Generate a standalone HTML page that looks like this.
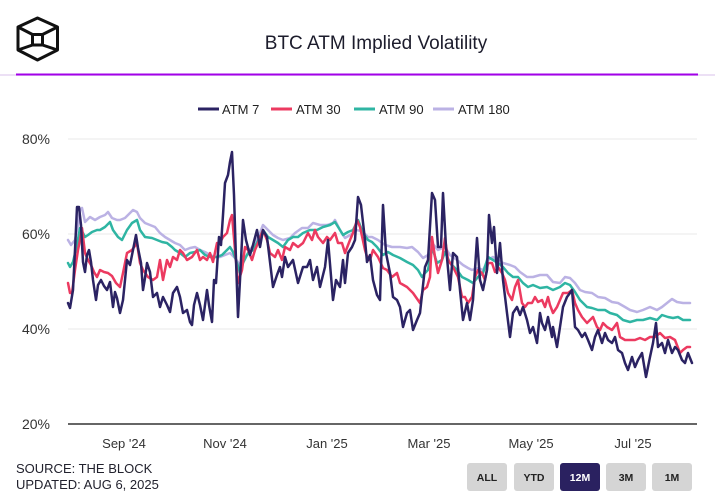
<!DOCTYPE html>
<html><head><meta charset="utf-8"><style>
html,body{margin:0;padding:0;background:#fff;}
body{width:715px;height:498px;overflow:hidden;position:relative;font-family:"Liberation Sans",sans-serif;}
</style></head><body>
<svg width="715" height="498" style="position:absolute;left:0;top:0" xmlns="http://www.w3.org/2000/svg">
<!-- logo -->
<g fill="none" stroke="#111" stroke-width="3" stroke-linejoin="round">
<polygon points="37.5,18 57.5,27 57.5,50 37.5,60 18,50 18,27"/>
<rect x="32.5" y="34.5" width="10" height="10.5"/>
<line x1="18" y1="27" x2="32.5" y2="34.5"/>
<line x1="57.5" y1="27" x2="42.5" y2="34.5"/>
<line x1="18" y1="50" x2="32.5" y2="45"/>
<line x1="57.5" y1="50" x2="42.5" y2="45"/>
</g>
<!-- header rule -->
<line x1="0" y1="75" x2="715" y2="75" stroke="#e6d6f2" stroke-width="1.5"/>
<line x1="16" y1="74.5" x2="698" y2="74.5" stroke="#a200e8" stroke-width="2"/>
<!-- legend -->
<line x1="198" y1="109" x2="219" y2="109" stroke="#2b2363" stroke-width="3"/>
<line x1="271" y1="109" x2="292" y2="109" stroke="#ec3a60" stroke-width="3"/>
<line x1="354" y1="109" x2="375" y2="109" stroke="#2fb5a3" stroke-width="3"/>
<line x1="433" y1="109" x2="454" y2="109" stroke="#bbb2e4" stroke-width="3"/>
<!-- grid -->
<g stroke="#e8e8e8" stroke-width="1">
<line x1="68" y1="139" x2="697" y2="139"/>
<line x1="68" y1="234" x2="697" y2="234"/>
<line x1="68" y1="329" x2="697" y2="329"/>
</g>
<line x1="68" y1="424" x2="697" y2="424" stroke="#333" stroke-width="1.5"/>
<g fill="none" stroke-width="2.5" stroke-linejoin="round" stroke-linecap="round">
<polyline stroke="#bbb2e4" points="68,240 71,245 75,240 78,225 80,210 82,208 85,222 90,217 95,220 100,217 105,215 108,212 112,218 117,220 120,220 125,218 130,213 133,210 137,212 140,218 145,223 150,225 155,227 160,233 165,237 170,240 175,243 180,245 185,250 190,248 195,247 200,250 205,252 210,255 215,257 220,257 225,255 230,253 235,258 240,265 245,258 250,250 255,243 260,233 263,225 268,230 273,235 278,238 283,240 290,238 295,233 302,228 308,228 313,223 320,225 327,225 333,223 335,220 340,230 345,238 350,235 357,230 363,232 368,237 372,237 378,240 385,245 392,247 400,247 407,248 412,247 418,252 423,258 428,255 432,243 438,250 445,247 450,255 457,260 463,265 468,268 472,270 478,268 483,270 488,260 493,257 498,260 503,263 510,265 515,267 520,272 527,277 533,277 540,275 547,275 553,282 560,283 565,277 570,278 575,283 580,290 585,292 592,293 598,297 605,298 612,302 618,303 625,307 630,310 637,312 643,310 650,307 657,310 662,307 667,303 672,299 677,302 683,303 690,303"/>
<polyline stroke="#2fb5a3" points="68,263 70,267 73,262 77,245 80,228 83,233 85,237 88,235 92,232 97,230 100,230 105,227 110,222 113,230 118,237 122,240 127,230 132,223 137,220 140,230 145,237 152,238 157,240 162,242 167,243 172,247 175,250 180,253 185,257 190,253 195,252 200,250 205,255 210,257 217,257 222,255 227,250 230,247 233,252 237,263 240,273 243,263 248,253 253,250 260,237 263,230 268,237 273,240 278,243 283,247 288,240 293,237 298,237 303,233 310,230 317,230 323,227 330,225 335,222 340,230 343,235 348,232 353,230 358,220 363,233 368,240 372,242 377,247 383,255 388,252 393,255 400,258 407,262 413,265 418,270 422,277 425,273 428,270 432,247 437,263 442,260 445,252 450,263 457,270 462,277 468,280 473,283 478,277 483,273 488,257 493,260 498,263 503,267 508,273 513,277 518,277 523,283 528,287 533,285 540,288 547,287 553,290 560,287 565,283 570,285 575,292 580,300 587,307 592,308 598,310 605,310 610,313 617,315 623,320 630,322 637,320 643,320 650,318 657,320 662,315 668,317 673,318 678,317 683,320 690,320"/>
<polyline stroke="#ec3a60" points="68,283 70,293 72,293 75,270 78,250 80,240 82,228 85,253 88,260 91,265 94,272 97,277 100,270 104,272 108,273 112,276 116,283 120,287 123,273 127,253 132,250 137,243 140,263 143,270 148,277 153,280 157,277 160,260 163,280 167,260 170,267 173,257 177,260 180,250 183,253 187,260 192,257 197,250 200,260 203,257 207,260 210,253 213,262 217,243 220,243 223,237 227,233 230,220 232,215 235,250 238,283 242,270 245,247 248,250 252,260 255,250 258,243 263,230 267,240 270,253 275,257 278,250 282,260 285,247 290,250 293,243 298,247 303,243 308,233 312,240 315,230 318,237 323,243 327,237 330,240 335,233 338,243 342,243 345,253 350,240 353,233 357,220 360,227 365,250 368,260 370,260 373,250 378,257 383,268 387,270 392,277 397,273 400,283 407,287 413,293 420,303 423,290 427,287 430,277 432,237 435,257 438,273 442,260 445,238 448,260 453,267 458,277 462,297 465,297 468,303 472,297 475,277 478,270 482,273 485,280 488,263 492,263 495,272 498,267 502,273 505,280 508,293 512,300 515,287 518,280 522,303 525,307 528,303 532,303 535,297 538,302 542,300 545,307 548,297 550,305 553,313 557,307 560,300 563,293 568,293 572,290 575,303 578,310 582,317 587,323 590,320 593,317 597,327 600,330 603,323 607,327 612,330 617,323 620,337 625,340 630,340 635,340 640,338 645,340 650,337 655,337 660,333 665,338 670,337 675,340 680,353 683,350 687,347 690,347"/>
<polyline stroke="#2b2363" points="68,303 70,308 73,290 75,250 77,207 79,207 81,225 83,262 85,272 87,255 89,250 91,262 93,280 96,300 98,285 101,280 104,286 107,290 110,282 113,307 115,292 117,298 120,313 123,300 125,280 127,260 130,265 133,250 136,235 138,248 141,263 143,290 145,278 147,263 150,272 153,297 157,293 160,307 163,297 167,305 170,312 173,293 177,287 180,297 183,313 187,310 190,322 192,325 194,305 197,293 200,305 203,320 207,290 209,305 212,322 214,280 216,283 219,237 221,245 223,215 225,183 228,175 230,162 232,152 234,195 236,260 238,317 240,280 243,220 246,240 250,255 253,245 257,230 260,247 263,230 267,237 270,262 273,287 277,275 280,267 282,277 285,257 288,267 293,260 298,283 303,267 307,267 310,260 313,280 317,267 320,287 325,267 328,240 333,300 336,280 340,287 343,260 345,283 348,253 352,247 355,240 358,197 361,205 365,240 367,262 370,255 373,280 377,295 380,300 383,205 386,253 390,273 393,297 397,300 400,307 403,327 407,313 410,310 413,330 417,320 420,313 425,267 428,260 432,193 435,200 438,247 441,247 443,193 446,247 450,290 453,253 457,257 460,290 463,320 467,303 470,320 473,300 477,238 480,280 483,290 487,270 489,215 492,243 494,227 497,273 500,243 503,280 507,313 510,337 513,313 517,307 520,315 523,307 527,320 530,333 533,327 537,343 540,313 542,323 545,330 548,317 552,337 553,327 557,347 560,327 563,307 567,297 570,293 572,290 575,327 578,330 582,337 585,333 588,340 592,350 595,337 598,330 602,343 605,333 608,340 612,343 615,337 618,350 622,353 625,363 628,370 632,357 635,367 638,360 642,353 646,377 650,357 653,343 656,323 658,347 662,343 665,353 668,340 672,353 675,347 678,350 682,360 685,363 688,353 692,363"/>
</g>
<!-- buttons -->
<g>
<rect x="467" y="463" width="40" height="28" rx="3" fill="#d5d5d5"/>
<rect x="514" y="463" width="40" height="28" rx="3" fill="#d5d5d5"/>
<rect x="560" y="463" width="40" height="28" rx="3" fill="#2a2160"/>
<rect x="606" y="463" width="40" height="28" rx="3" fill="#d5d5d5"/>
<rect x="652" y="463" width="40" height="28" rx="3" fill="#d5d5d5"/>
</g>
<g font-family="Liberation Sans, sans-serif" font-size="10.5" font-weight="bold" text-anchor="middle">
<text x="487" y="481" fill="#222">ALL</text>
<text x="534" y="481" fill="#222">YTD</text>
<text x="580" y="481" fill="#fff">12M</text>
<text x="626" y="481" fill="#222">3M</text>
<text x="672" y="481" fill="#222">1M</text>
</g>
<g font-family="Liberation Sans, sans-serif" font-size="19" fill="#1c1c2c" text-anchor="middle">
<text x="376" y="49">BTC ATM Implied Volatility</text>
</g>
<g font-family="Liberation Sans, sans-serif" font-size="13" fill="#222">
<text x="222" y="114">ATM 7</text>
<text x="296" y="114">ATM 30</text>
<text x="379" y="114">ATM 90</text>
<text x="458" y="114">ATM 180</text>
</g>
<g font-family="Liberation Sans, sans-serif" font-size="14" fill="#333" text-anchor="end">
<text x="50" y="144">80%</text>
<text x="50" y="239">60%</text>
<text x="50" y="334">40%</text>
<text x="50" y="429">20%</text>
</g>
<g font-family="Liberation Sans, sans-serif" font-size="13" fill="#333" text-anchor="middle">
<text x="124" y="448">Sep '24</text>
<text x="225" y="448">Nov '24</text>
<text x="327" y="448">Jan '25</text>
<text x="429" y="448">Mar '25</text>
<text x="531" y="448">May '25</text>
<text x="633" y="448">Jul '25</text>
</g>
<g font-family="Liberation Sans, sans-serif" font-size="13" fill="#22222e">
<text x="16" y="473">SOURCE: THE BLOCK</text>
<text x="16" y="489">UPDATED: AUG 6, 2025</text>
</g>
</svg>
</body></html>
